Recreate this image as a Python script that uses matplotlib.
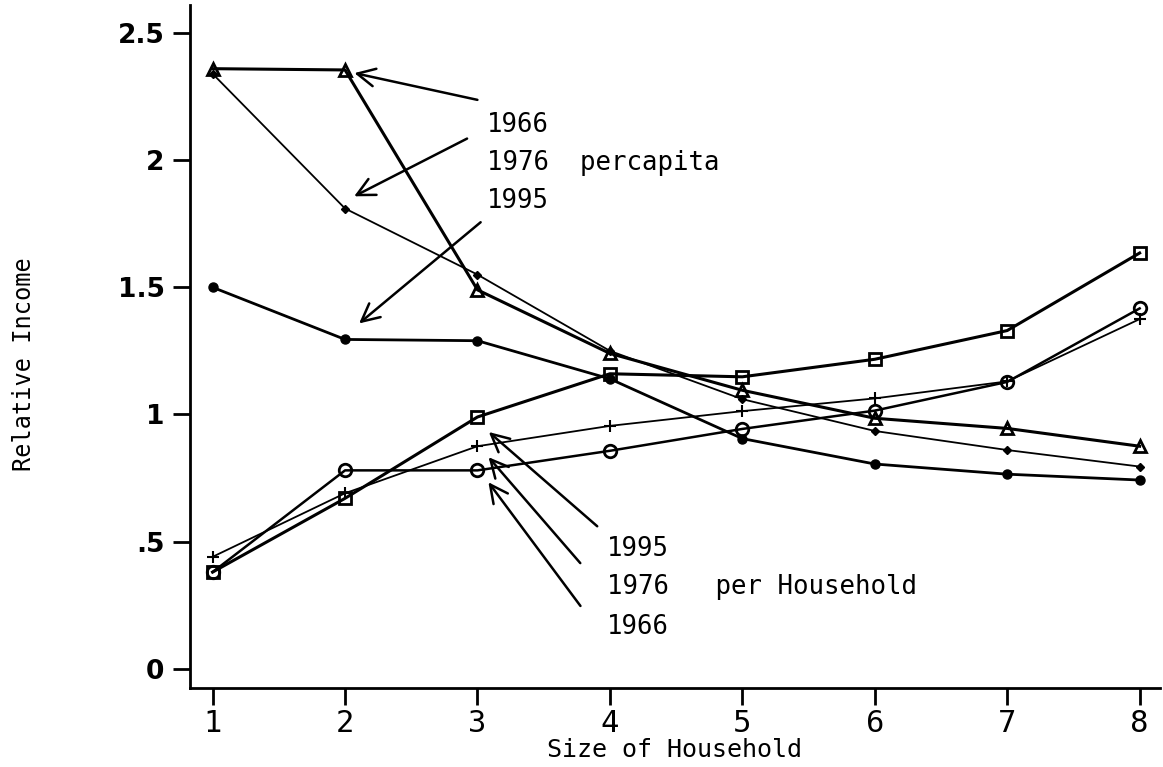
import matplotlib.pyplot as plt

# household size and relative incomes
size = [1, 2, 3, 4, 5, 6, 7, 8]

pc_1966 = [2.36, 2.355, 1.49, 1.24, 1.095, 0.985, 0.945, 0.875]
pc_1976 = [2.34, 1.81, 1.55, 1.25, 1.06, 0.935, 0.86, 0.795]
pc_1995 = [1.50, 1.295, 1.29, 1.14, 0.905, 0.805, 0.765, 0.742]

hh_1995 = [0.38, 0.67, 0.99, 1.16, 1.148, 1.217, 1.33, 1.635]
hh_1976 = [0.44, 0.69, 0.875, 0.955, 1.013, 1.063, 1.13, 1.375]
hh_1966 = [0.38, 0.78, 0.78, 0.857, 0.943, 1.015, 1.128, 1.417]

yticks = [0, 0.5, 1, 1.5, 2, 2.5]
ytick_labels = ["0", ".5", "1", "1.5", "2", "2.5"]

mono = "DejaVu Sans Mono"

fig = plt.figure(figsize=(11.63, 7.67), dpi=100)
ax = fig.add_axes([0.163, 0.103, 0.834, 0.89])

ax.plot(size, pc_1966, color="black", lw=2.2, marker="^", ms=9, mfc="none", mew=2)
ax.plot(size, pc_1976, color="black", lw=1.3, marker="D", ms=4.5, mfc="black")
ax.plot(size, pc_1995, color="black", lw=2.0, marker="o", ms=6.5, mfc="black")

ax.plot(size, hh_1995, color="black", lw=2.2, marker="s", ms=9, mfc="none", mew=2)
ax.plot(size, hh_1976, color="black", lw=1.3, marker="+", ms=8, mew=1.5)
ax.plot(size, hh_1966, color="black", lw=1.8, marker="o", ms=9, mfc="none", mew=2)

arrow = dict(arrowstyle="->", lw=1.8, color="black", mutation_scale=32)

# per capita labels
ax.annotate("", xy=(2.05, 2.345), xytext=(3.02, 2.235), arrowprops=arrow)
ax.annotate("", xy=(2.05, 1.853), xytext=(2.94, 2.09), arrowprops=arrow)
ax.annotate("", xy=(2.09, 1.351), xytext=(3.04, 1.763), arrowprops=arrow)
ax.text(3.07, 2.14, "1966", fontsize=18.5, family=mono, va="center")
ax.text(3.07, 1.99, "1976  percapita", fontsize=18.5, family=mono, va="center")
ax.text(3.07, 1.84, "1995", fontsize=18.5, family=mono, va="center")

# per household labels
ax.annotate("", xy=(3.07, 0.938), xytext=(3.92, 0.553), arrowprops=arrow)
ax.annotate("", xy=(3.07, 0.84), xytext=(3.79, 0.407), arrowprops=arrow)
ax.annotate("", xy=(3.07, 0.742), xytext=(3.79, 0.238), arrowprops=arrow)
ax.text(3.98, 0.47, "1995", fontsize=18.5, family=mono, va="center")
ax.text(3.98, 0.32, "1976   per Household", fontsize=18.5, family=mono, va="center")
ax.text(3.98, 0.165, "1966", fontsize=18.5, family=mono, va="center")

ax.set_xlim(0.826, 8.15)
ax.set_ylim(-0.076, 2.609)
ax.set_xticks(size)
ax.set_xticklabels([str(s) for s in size], family=mono, fontsize=22)
ax.set_yticks(yticks)
ax.set_yticklabels(ytick_labels, fontsize=19, fontweight="bold")

ax.spines["top"].set_visible(False)
ax.spines["right"].set_visible(False)
for s in ["left", "bottom"]:
    ax.spines[s].set_linewidth(2)
ax.tick_params(axis="both", direction="out", length=12, width=2, pad=6)
ax.tick_params(axis="x", pad=3)

ax.set_xlabel("Size of Household", family=mono, fontsize=18, labelpad=0)
ax.set_ylabel("Relative Income", family=mono, fontsize=17)
ax.yaxis.set_label_coords(-0.158, 0.474)

fig.savefig("out.png", dpi=100)
